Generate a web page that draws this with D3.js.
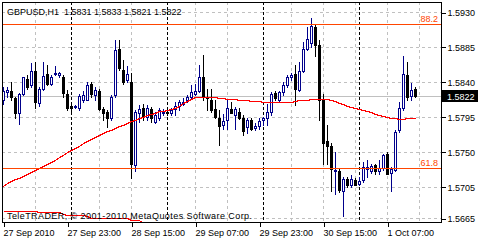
<!DOCTYPE html>
<html>
<head>
<meta charset="utf-8">
<script src="https://cdnjs.cloudflare.com/ajax/libs/d3/7.8.5/d3.min.js"></script>
<style>
  body { margin: 0; background: #fff; }
  svg { display: block; font-family: "Liberation Sans", Arial, sans-serif; font-size: 9px; }
</style>
</head>
<body>
<div id="chart"></div>
<script>
const symbol = "GBPUSD,H1";
const lastBar = "1.5831 1.5833 1.5821 1.5822";
const copyright = "TeleTRADER, © 2001-2010 MetaQuotes Software Corp.";

// hourly bars, 27 Sep 07:00 .. 1 Oct 14:00
const opens = [
  1.5817, 1.5827, 1.5828, 1.5820, 1.5800, 1.5825, 1.5844, 1.5836, 1.5854, 1.5813,
  1.5831, 1.5850, 1.5837, 1.5850, 1.5849, 1.5847, 1.5825, 1.5809, 1.5808, 1.5806,
  1.5817, 1.5817, 1.5837, 1.5823, 1.5829, 1.5805, 1.5802, 1.5793, 1.5823, 1.5882,
  1.5856, 1.5842, 1.5840, 1.5733, 1.5800, 1.5806, 1.5795, 1.5805, 1.5789, 1.5793,
  1.5800, 1.5802, 1.5800, 1.5805, 1.5809, 1.5812, 1.5817, 1.5821, 1.5825, 1.5829,
  1.5846, 1.5821, 1.5817, 1.5805, 1.5794, 1.5785, 1.5791, 1.5805, 1.5797, 1.5802,
  1.5793, 1.5782, 1.5791, 1.5781, 1.5783, 1.5791, 1.5793, 1.5802, 1.5826, 1.5817,
  1.5827, 1.5836, 1.5846, 1.5850, 1.5830, 1.5854, 1.5882, 1.5890, 1.5911, 1.5887,
  1.5817, 1.5764, 1.5757, 1.5725, 1.5726, 1.5700, 1.5715, 1.5707, 1.5714, 1.5709,
  1.5714, 1.5728, 1.5726, 1.5733, 1.5725, 1.5729, 1.5747, 1.5723, 1.5727, 1.5778,
  1.5806, 1.5849, 1.5822, 1.5831
];
const highs = [
  1.5833, 1.5833, 1.5840, 1.5821, 1.5826, 1.5847, 1.5849, 1.5864, 1.5866, 1.5833,
  1.5866, 1.5862, 1.5849, 1.5860, 1.5853, 1.5849, 1.5830, 1.5812, 1.5811, 1.5825,
  1.5829, 1.5840, 1.5840, 1.5833, 1.5831, 1.5808, 1.5804, 1.5823, 1.5894, 1.5894,
  1.5868, 1.5860, 1.5851, 1.5804, 1.5810, 1.5812, 1.5810, 1.5808, 1.5802, 1.5806,
  1.5805, 1.5804, 1.5806, 1.5814, 1.5817, 1.5819, 1.5823, 1.5836, 1.5838, 1.5862,
  1.5875, 1.5831, 1.5831, 1.5817, 1.5804, 1.5799, 1.5817, 1.5814, 1.5808, 1.5806,
  1.5797, 1.5793, 1.5793, 1.5787, 1.5793, 1.5795, 1.5812, 1.5827, 1.5829, 1.5829,
  1.5840, 1.5849, 1.5851, 1.5862, 1.5866, 1.5892, 1.5911, 1.5922, 1.5914, 1.5894,
  1.5825, 1.5785, 1.5761, 1.5750, 1.5729, 1.5718, 1.5718, 1.5720, 1.5716, 1.5718,
  1.5737, 1.5740, 1.5734, 1.5735, 1.5740, 1.5747, 1.5750, 1.5731, 1.5778, 1.5814,
  1.5873, 1.5866, 1.5839, 1.5833
];
const lows = [
  1.5812, 1.5821, 1.5817, 1.5794, 1.5786, 1.5823, 1.5831, 1.5833, 1.5806, 1.5809,
  1.5830, 1.5836, 1.5836, 1.5849, 1.5847, 1.5821, 1.5804, 1.5803, 1.5806, 1.5804,
  1.5814, 1.5817, 1.5821, 1.5817, 1.5804, 1.5791, 1.5782, 1.5791, 1.5821, 1.5855,
  1.5838, 1.5840, 1.5716, 1.5725, 1.5789, 1.5791, 1.5791, 1.5789, 1.5787, 1.5791,
  1.5797, 1.5797, 1.5797, 1.5797, 1.5804, 1.5810, 1.5814, 1.5819, 1.5823, 1.5827,
  1.5817, 1.5804, 1.5802, 1.5793, 1.5759, 1.5780, 1.5780, 1.5800, 1.5780, 1.5792,
  1.5772, 1.5774, 1.5778, 1.5778, 1.5780, 1.5785, 1.5785, 1.5797, 1.5817, 1.5814,
  1.5823, 1.5834, 1.5842, 1.5810, 1.5829, 1.5853, 1.5881, 1.5885, 1.5873, 1.5791,
  1.5735, 1.5735, 1.5700, 1.5696, 1.5699, 1.5667, 1.5705, 1.5705, 1.5707, 1.5708,
  1.5711, 1.5718, 1.5723, 1.5722, 1.5722, 1.5727, 1.5721, 1.5700, 1.5726, 1.5775,
  1.5804, 1.5817, 1.5817, 1.5821
];
const closes = [
  1.5829, 1.5830, 1.5821, 1.5800, 1.5825, 1.5846, 1.5833, 1.5854, 1.5814, 1.5831,
  1.5848, 1.5837, 1.5847, 1.5852, 1.5851, 1.5826, 1.5806, 1.5807, 1.5809, 1.5822,
  1.5823, 1.5836, 1.5824, 1.5830, 1.5805, 1.5800, 1.5793, 1.5821, 1.5881, 1.5858,
  1.5840, 1.5850, 1.5735, 1.5802, 1.5805, 1.5795, 1.5806, 1.5793, 1.5797, 1.5804,
  1.5802, 1.5800, 1.5804, 1.5809, 1.5814, 1.5814, 1.5821, 1.5827, 1.5829, 1.5846,
  1.5821, 1.5819, 1.5804, 1.5795, 1.5783, 1.5790, 1.5806, 1.5800, 1.5805, 1.5793,
  1.5777, 1.5791, 1.5780, 1.5783, 1.5790, 1.5793, 1.5802, 1.5825, 1.5819, 1.5827,
  1.5836, 1.5846, 1.5849, 1.5831, 1.5854, 1.5883, 1.5895, 1.5912, 1.5887, 1.5817,
  1.5761, 1.5757, 1.5728, 1.5727, 1.5701, 1.5715, 1.5707, 1.5715, 1.5708, 1.5712,
  1.5730, 1.5730, 1.5732, 1.5725, 1.5729, 1.5746, 1.5722, 1.5728, 1.5776, 1.5806,
  1.5850, 1.5821, 1.5830, 1.5822
];
// moving average (red)
const maValues = [
  1.57063, 1.57101, 1.57127, 1.57153, 1.57165, 1.57191, 1.57217, 1.57243, 1.57268, 1.57294,
  1.57320, 1.57345, 1.57371, 1.57397, 1.57435, 1.57461, 1.57500, 1.57525, 1.57551, 1.57577,
  1.57615, 1.57641, 1.57667, 1.57693, 1.57718, 1.57744, 1.57770, 1.57783, 1.57808, 1.57834,
  1.57847, 1.57873, 1.57898, 1.57911, 1.57937, 1.57950, 1.57975, 1.57988, 1.58001, 1.58027,
  1.58027, 1.58040, 1.58053, 1.58065, 1.58091, 1.58130, 1.58155, 1.58181, 1.58207, 1.58207,
  1.58207, 1.58207, 1.58207, 1.58207, 1.58194, 1.58194, 1.58181, 1.58181, 1.58181, 1.58168,
  1.58168, 1.58168, 1.58155, 1.58155, 1.58155, 1.58143, 1.58143, 1.58143, 1.58143, 1.58143,
  1.58143, 1.58143, 1.58143, 1.58155, 1.58168, 1.58168, 1.58168, 1.58181, 1.58181, 1.58181,
  1.58181, 1.58181, 1.58168, 1.58155, 1.58130, 1.58117, 1.58091, 1.58078, 1.58065, 1.58053,
  1.58040, 1.58027, 1.58014, 1.57988, 1.57975, 1.57963, 1.57950, 1.57937, 1.57937, 1.57924,
  1.57924, 1.57937, 1.57937, 1.57937
];
// second average, only its tail is inside the window
const ma2Values = [
  1.56741, 1.56741, 1.56741, 1.56741, 1.56734, 1.56734, 1.56734, 1.56734, 1.56734, 1.56728,
  1.56728, 1.56728, 1.56728, 1.56728, 1.56728, 1.56700, 1.56690, 1.56690, 1.56690, 1.56690,
  1.56690, 1.56670, 1.56651, 1.56651, 1.56651, 1.56651, 1.56651, 1.56651, 1.56651, 1.56651,
  1.56651, 1.56651, 1.56625, 1.56625, 1.56625, 1.56590, 1.56560
];
const priceTicks = [1.5665, 1.5705, 1.5750, 1.5795, 1.5840, 1.5885, 1.5930];
const timeTickBars = [0, 16, 32, 48, 64, 80, 96];
const timeLabels = ["27 Sep 2010", "27 Sep 23:00", "28 Sep 15:00", "29 Sep 07:00", "29 Sep 23:00", "30 Sep 15:00", "1 Oct 07:00"];
const gridBars = [8, 24, 32, 48, 56, 72, 80, 88, 96, 104];
const daySeparatorBars = [17, 41, 65, 89];
const fibLevels = ["88.2", "61.8"];
const fibPrices = [1.5915, 1.5729];
const bidPrice = 1.5822;

const drawChart = () => {
  const chartSize = { width: 480, height: 240 };
  const plot = { left: 2, top: 2, right: 441, bottom: 222 };
  const bull = "#00008b";
  const bear = "#000000";
  const fibColor = "#ff4500";

  const x = d3.scaleLinear().domain([0, 109.5]).range([3, 441]);
  const y = d3.scaleLinear().domain([1.5665, 1.593]).range([218, 12]);
  const px = v => Math.round(x(v));
  const py = v => Math.round(y(v));

  const svg = d3.select("#chart")
    .append("svg")
    .attr("width", chartSize.width)
    .attr("height", chartSize.height)
    .attr("shape-rendering", "crispEdges");

  svg.append("rect").attr("width", chartSize.width).attr("height", chartSize.height).attr("fill", "#fff");

  svg.append("clipPath").attr("id", "plot-clip")
    .append("rect")
    .attr("x", plot.left + 1).attr("y", plot.top + 1)
    .attr("width", plot.right - plot.left - 1).attr("height", plot.bottom - plot.top - 1);

  // grid
  svg.append("g").selectAll("line").data(priceTicks).enter().append("line")
    .attr("x1", plot.left).attr("x2", plot.right)
    .attr("y1", d => py(d) + 0.5).attr("y2", d => py(d) + 0.5)
    .attr("stroke", "#c0c0c0").attr("stroke-dasharray", "3,3");

  svg.append("g").selectAll("line").data(gridBars).enter().append("line")
    .attr("x1", d => px(d) + 0.5).attr("x2", d => px(d) + 0.5)
    .attr("y1", plot.top).attr("y2", plot.bottom)
    .attr("stroke", "#c0c0c0").attr("stroke-dasharray", "3,3");

  svg.append("g").selectAll("line").data(daySeparatorBars).enter().append("line")
    .attr("x1", d => px(d) + 0.5).attr("x2", d => px(d) + 0.5)
    .attr("y1", plot.top).attr("y2", plot.bottom)
    .attr("stroke", "#000").attr("stroke-dasharray", "3,2");

  // bid line
  svg.append("line")
    .attr("x1", plot.left).attr("x2", plot.right)
    .attr("y1", py(bidPrice) + 0.5).attr("y2", py(bidPrice) + 0.5)
    .attr("stroke", "#c0c0c0");

  // candles
  const bars = d3.range(opens.length).map(i => ({ i, o: opens[i], h: highs[i], l: lows[i], c: closes[i] }));
  const candles = svg.append("g").attr("clip-path", "url(#plot-clip)")
    .selectAll("g").data(bars).enter().append("g");

  candles.append("line")
    .attr("x1", d => px(d.i) + 0.5).attr("x2", d => px(d.i) + 0.5)
    .attr("y1", d => py(d.h)).attr("y2", d => py(d.l) + 1)
    .attr("stroke", d => d.c >= d.o ? bull : bear);

  candles.filter(d => d.c >= d.o).append("rect")
    .attr("x", d => px(d.i) - 0.5)
    .attr("y", d => py(d.c) + 0.5)
    .attr("width", 2)
    .attr("height", d => Math.max(1, py(d.o) - py(d.c)))
    .attr("fill", "#fff").attr("stroke", bull);

  candles.filter(d => d.c < d.o).append("rect")
    .attr("x", d => px(d.i) - 1)
    .attr("y", d => py(d.o))
    .attr("width", 3)
    .attr("height", d => Math.max(1, py(d.c) - py(d.o) + 1))
    .attr("fill", bear);

  // moving averages
  const line = d3.line().x((d, i) => px(i) + 0.5).y(d => py(d) + 0.5);
  const maGroup = svg.append("g").attr("clip-path", "url(#plot-clip)");
  maGroup.append("path").attr("d", line(maValues)).attr("fill", "none").attr("stroke", "#ff0000");
  maGroup.append("path").attr("d", line(ma2Values)).attr("fill", "none").attr("stroke", "#ff0000");

  // fibo levels
  const fib = svg.append("g").selectAll("g").data(fibPrices).enter().append("g");
  fib.append("line")
    .attr("x1", plot.left).attr("x2", plot.right)
    .attr("y1", d => py(d) + 0.5).attr("y2", d => py(d) + 0.5)
    .attr("stroke", fibColor);
  fib.append("text")
    .attr("x", plot.right - 3).attr("y", d => py(d) - 2)
    .attr("text-anchor", "end").attr("fill", fibColor)
    .text((d, i) => fibLevels[i]);

  // frame
  svg.append("rect")
    .attr("x", plot.left + 0.5).attr("y", plot.top + 0.5)
    .attr("width", plot.right - plot.left).attr("height", plot.bottom - plot.top)
    .attr("fill", "none").attr("stroke", "#000");

  // price axis
  const yAxis = d3.axisRight(y).tickValues(priceTicks).tickSize(4).tickPadding(2).tickFormat(d3.format(".4f"));
  const ya = svg.append("g").attr("transform", `translate(${plot.right + 0.5},0.5)`).call(yAxis);
  ya.select(".domain").remove();
  ya.selectAll("text").attr("font-size", 9).attr("font-family", null).attr("fill", "#000");
  ya.selectAll("line").attr("stroke", "#000");

  // time axis
  const xAxis = d3.axisBottom(x).tickValues(timeTickBars).tickSize(4).tickFormat((d, i) => timeLabels[i]);
  const xa = svg.append("g").attr("transform", `translate(0.5,${plot.bottom + 0.5})`).call(xAxis);
  xa.select(".domain").remove();
  xa.selectAll("text").attr("text-anchor", "start").attr("x", -0.5).attr("y", 13)
    .attr("dy", null).attr("font-size", 9).attr("font-family", null).attr("fill", "#000");
  xa.selectAll("line").attr("stroke", "#000");

  // bid label
  svg.append("rect")
    .attr("x", plot.right).attr("y", py(bidPrice) - 6)
    .attr("width", 37).attr("height", 12).attr("fill", "#000");
  svg.append("text")
    .attr("x", plot.right + 6).attr("y", py(bidPrice) + 0.5)
    .attr("dy", "0.35em").attr("fill", "#fff").text(d3.format(".4f")(bidPrice));

  // header and copyright
  svg.append("text").attr("x", 7).attr("y", 15).attr("xml:space", "preserve")
    .text(symbol + "  " + lastBar);
  svg.append("text").attr("x", 7).attr("y", 219)
    .attr("textLength", 245).attr("lengthAdjust", "spacing")
    .text(copyright);
};

window.onload = drawChart;
</script>
</body>
</html>
